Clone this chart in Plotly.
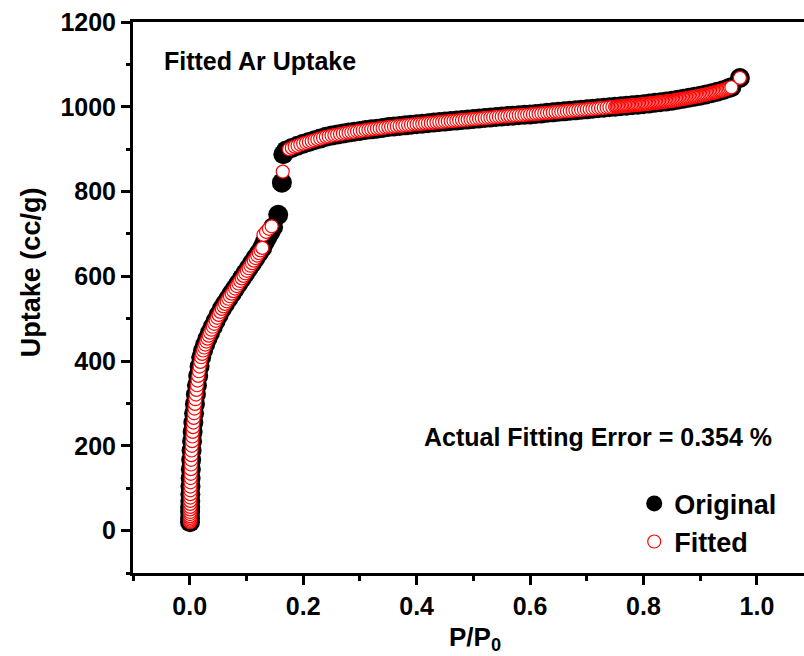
import plotly.graph_objects as go

# ---------------- data ----------------
# Original isotherm (black filled markers)
orig_p_low = [0.0005, 0.0006, 0.0007, 0.0008, 0.0010, 0.0011, 0.0013, 0.0016, 0.0020, 0.0026,
              0.0033, 0.0042, 0.0052, 0.0064, 0.0077, 0.0092, 0.0109, 0.0128, 0.0149, 0.0174,
              0.0203, 0.0236, 0.0273, 0.0314, 0.0359, 0.0407, 0.0458, 0.0511, 0.0566, 0.0622,
              0.0680, 0.0739, 0.0799, 0.0859, 0.0919, 0.0979, 0.1039, 0.1099, 0.1159, 0.1219]
orig_u_low = [20, 30, 44, 56, 70, 86, 104, 124, 145, 167,
              189, 211, 233, 255, 277, 299, 321, 343, 365, 387,
              409, 425, 439, 453, 467, 481, 495, 509, 523, 535,
              547, 559, 571, 583, 595, 607, 619, 631, 643, 655]
orig_p_knee = [0.1279, 0.1320, 0.1370, 0.1420, 0.1470, 0.1560, 0.1625, 0.1650, 0.1700]
orig_u_knee = [667, 680, 692, 704, 716, 745, 821, 888, 897]
orig_p_high = [0.18, 0.19, 0.20, 0.21, 0.22, 0.23, 0.24, 0.25, 0.26, 0.27, 0.28, 0.29, 0.30,
               0.31, 0.32, 0.33, 0.34, 0.35, 0.36, 0.37, 0.38, 0.39, 0.40, 0.41, 0.42, 0.43,
               0.44, 0.45, 0.46, 0.47, 0.48, 0.49, 0.50, 0.51, 0.52, 0.53, 0.54, 0.55, 0.56,
               0.57, 0.58, 0.59, 0.60, 0.61, 0.62, 0.63, 0.64, 0.65, 0.66, 0.67, 0.68, 0.69,
               0.70, 0.71, 0.72, 0.73, 0.74, 0.75, 0.76, 0.77, 0.78, 0.79, 0.80, 0.81, 0.82,
               0.83, 0.84, 0.85, 0.86, 0.87, 0.88, 0.89, 0.90, 0.91, 0.92, 0.93, 0.94, 0.95,
               0.955, 0.97]
orig_u_high = [903, 908, 913, 917, 921, 925, 929, 932, 934.4, 936.8, 939, 941, 943,
               945, 946.8, 948.4, 950, 952, 953.4, 954.8, 956.2, 957.6, 959, 960.2, 961.4, 962.6,
               963.8, 965, 966.2, 967.4, 968.6, 969.8, 971, 972.2, 973.4, 974.6, 975.8, 977, 978,
               979, 980, 981, 982, 983.2, 984.4, 985.6, 986.8, 988, 989.2, 990.4, 991.6, 992.8,
               994, 995.2, 996.4, 997.6, 998.8, 1000, 1001.2, 1002.4, 1003.6, 1004.8, 1006, 1007.6, 1009.2,
               1010.8, 1012.4, 1014, 1016.4, 1018.8, 1021.2, 1023.6, 1026, 1029, 1032, 1035.5, 1039, 1043.7,
               1046, 1068]

# Fitted isotherm (red open markers)
fit_p_low = [0.0005, 0.0005, 0.0005, 0.0006, 0.0006, 0.0006, 0.0007, 0.0007, 0.0008, 0.0008,
             0.0009, 0.0010, 0.0011, 0.0012, 0.0013, 0.0014, 0.0016, 0.0018, 0.0020, 0.0023,
             0.0026, 0.0029, 0.0033, 0.0037, 0.0042, 0.0047, 0.0052, 0.0058, 0.0064, 0.0070,
             0.0077, 0.0084, 0.0092, 0.0100, 0.0109, 0.0118, 0.0128, 0.0138, 0.0149, 0.0161,
             0.0174, 0.0188, 0.0203, 0.0219, 0.0236, 0.0254, 0.0273, 0.0293, 0.0314, 0.0336,
             0.0359, 0.0383, 0.0407, 0.0432, 0.0458, 0.0484, 0.0511, 0.0538, 0.0566, 0.0594,
             0.0622, 0.0651, 0.0680, 0.0709, 0.0739, 0.0769, 0.0799, 0.0829, 0.0859, 0.0889,
             0.0919, 0.0949, 0.0979, 0.1009, 0.1039, 0.1069, 0.1099, 0.1129, 0.1159, 0.1189,
             0.1219, 0.1249, 0.1279]
fit_u_low = [20, 23, 26, 30, 34, 39, 44, 50, 56, 63,
             70, 78, 86, 95, 104, 114, 124, 134, 145, 156,
             167, 178, 189, 200, 211, 222, 233, 244, 255, 266,
             277, 288, 299, 310, 321, 332, 343, 354, 365, 376,
             387, 398, 409, 417, 425, 432, 439, 446, 453, 460,
             467, 474, 481, 488, 495, 502, 509, 516, 523, 529,
             535, 541, 547, 553, 559, 565, 571, 577, 583, 589,
             595, 601, 607, 613, 619, 625, 631, 637, 643, 649,
             655, 661, 667]
fit_p_knee = [0.1300, 0.1345, 0.1395, 0.1445, 0.1640]
fit_u_knee = [698, 705, 712, 718, 847]
fit_p_mid = [0.175, 0.180, 0.185, 0.190, 0.195, 0.200, 0.205, 0.210, 0.215, 0.220,
             0.225, 0.230, 0.235, 0.240, 0.245, 0.250, 0.255, 0.260, 0.265, 0.270,
             0.275, 0.280, 0.285, 0.290, 0.295, 0.300, 0.305, 0.310, 0.315, 0.320,
             0.325, 0.330, 0.335, 0.340, 0.345, 0.350, 0.355, 0.360, 0.365, 0.370,
             0.375, 0.380, 0.385, 0.390, 0.395, 0.400, 0.405, 0.410, 0.415, 0.420,
             0.425, 0.430, 0.435, 0.440, 0.445, 0.450, 0.455, 0.460, 0.465, 0.470,
             0.475, 0.480, 0.485, 0.490, 0.495, 0.500, 0.505, 0.510, 0.515, 0.520,
             0.525, 0.530, 0.535, 0.540, 0.545, 0.550, 0.555, 0.560, 0.565, 0.570,
             0.575, 0.580, 0.585, 0.590, 0.595, 0.600, 0.605, 0.610, 0.615, 0.620,
             0.625, 0.630, 0.635, 0.640, 0.645, 0.650, 0.655, 0.660, 0.665, 0.670,
             0.675, 0.680, 0.685, 0.690, 0.695, 0.700, 0.705, 0.710, 0.715, 0.720,
             0.725, 0.730, 0.735, 0.740, 0.745, 0.750]
fit_u_mid = [900, 903, 906, 908, 911, 913, 915, 917, 919, 921,
             923, 925, 927, 929, 930.5, 932, 933.2, 934.4, 935.6, 936.8,
             938, 939, 940, 941, 942, 943, 944, 945, 946, 946.8,
             947.6, 948.4, 949.2, 950, 951, 952, 952.7, 953.4, 954.1, 954.8,
             955.5, 956.2, 956.9, 957.6, 958.3, 959, 959.6, 960.2, 960.8, 961.4,
             962, 962.6, 963.2, 963.8, 964.4, 965, 965.6, 966.2, 966.8, 967.4,
             968, 968.6, 969.2, 969.8, 970.4, 971, 971.6, 972.2, 972.8, 973.4,
             974, 974.6, 975.2, 975.8, 976.4, 977, 977.5, 978, 978.5, 979,
             979.5, 980, 980.5, 981, 981.5, 982, 982.6, 983.2, 983.8, 984.4,
             985, 985.6, 986.2, 986.8, 987.4, 988, 988.6, 989.2, 989.8, 990.4,
             991, 991.6, 992.2, 992.8, 993.4, 994, 994.6, 995.2, 995.8, 996.4,
             997, 997.6, 998.2, 998.8, 999.4, 1000]
fit_p_high = [0.7525, 0.7550, 0.7575, 0.7600, 0.7625, 0.7650, 0.7675, 0.7700, 0.7725, 0.7750,
              0.7775, 0.7800, 0.7825, 0.7850, 0.7875, 0.7900, 0.7925, 0.7950, 0.7975, 0.8000,
              0.8025, 0.8050, 0.8075, 0.8100, 0.8125, 0.8150, 0.8175, 0.8200, 0.8225, 0.8250,
              0.8275, 0.8300, 0.8325, 0.8350, 0.8375, 0.8400, 0.8425, 0.8450, 0.8475, 0.8500,
              0.8525, 0.8550, 0.8575, 0.8600, 0.8625, 0.8650, 0.8675, 0.8700, 0.8725, 0.8750,
              0.8775, 0.8800, 0.8825, 0.8850, 0.8875, 0.8900, 0.8925, 0.8950, 0.8975, 0.9000,
              0.9025, 0.9050, 0.9075, 0.9100, 0.9125, 0.9150, 0.9175, 0.9200,
              0.9225, 0.9250, 0.9275, 0.9300, 0.9325, 0.9350, 0.9375, 0.9400,
              0.9425, 0.9450, 0.9475, 0.9500, 0.9525, 0.9550, 0.9700]
fit_u_high = [1000.3, 1000.6, 1000.9, 1001.2, 1001.5, 1001.8, 1002.1, 1002.4, 1002.7, 1003,
              1003.3, 1003.6, 1003.9, 1004.2, 1004.5, 1004.8, 1005.1, 1005.4, 1005.7, 1006,
              1006.4, 1006.8, 1007.2, 1007.6, 1008, 1008.4, 1008.8, 1009.2, 1009.6, 1010,
              1010.4, 1010.8, 1011.2, 1011.6, 1012, 1012.4, 1012.8, 1013.2, 1013.6, 1014,
              1014.6, 1015.2, 1015.8, 1016.4, 1017, 1017.6, 1018.2, 1018.8, 1019.4, 1020,
              1020.6, 1021.2, 1021.8, 1022.4, 1023, 1023.6, 1024.2, 1024.8, 1025.4, 1026,
              1026.75, 1027.5, 1028.25, 1029, 1029.75, 1030.5, 1031.25, 1032,
              1032.9, 1033.8, 1034.6, 1035.5, 1036.4, 1037.3, 1038.1, 1039,
              1040.2, 1041.3, 1042.5, 1043.7, 1044.8, 1046, 1068]

x_tick_vals = [0.0, 0.2, 0.4, 0.6, 0.8, 1.0]
x_tick_text = ["0.0", "0.2", "0.4", "0.6", "0.8", "1.0"]
y_tick_vals = [0, 200, 400, 600, 800, 1000, 1200]
y_tick_text = ["0", "200", "400", "600", "800", "1000", "1200"]

orig_p = orig_p_low + orig_p_knee + orig_p_high
orig_u = orig_u_low + orig_u_knee + orig_u_high
fit_p = fit_p_low + fit_p_knee + fit_p_mid + fit_p_high
fit_u = fit_u_low + fit_u_knee + fit_u_mid + fit_u_high

FONT = "Liberation Sans"

fig = go.Figure()
fig.add_trace(go.Scatter(
    x=orig_p, y=orig_u, mode="markers", name="Original",
    marker=dict(symbol="circle", size=20, color="black", line=dict(width=0)),
))
fig.add_trace(go.Scatter(
    x=fit_p, y=fit_u, mode="markers", name="Fitted",
    marker=dict(symbol="circle", size=13, color="white", line=dict(color="red", width=1.2)),
))

axis_common = dict(
    showgrid=False, zeroline=False, showline=True, linecolor="black", linewidth=3,
    ticks="outside", ticklen=9, tickwidth=3, tickcolor="black",
    tickfont=dict(family=FONT, size=25, color="black", weight="bold"),
)

fig.update_xaxes(
    range=[-0.1, 1.083], tickvals=x_tick_vals, ticktext=x_tick_text, mirror=True,
    minor=dict(ticks="outside", ticklen=5, tickwidth=3, tickcolor="black", dtick=0.1, tick0=0),
    **axis_common,
)
fig.update_yaxes(
    range=[-100, 1200], tickvals=y_tick_vals, ticktext=y_tick_text,
    minor=dict(ticks="outside", ticklen=4, tickwidth=3, tickcolor="black", dtick=100, tick0=0),
    **axis_common,
)

fig.update_layout(
    width=804, height=656,
    margin=dict(l=133, r=0, t=22, b=83),
    plot_bgcolor="white", paper_bgcolor="white",
    font=dict(family=FONT, color="black"),
    showlegend=True,
    legend=dict(
        x=0.747, y=0.17, xanchor="left", yanchor="top",
        bgcolor="rgba(0,0,0,0)", borderwidth=0,
        font=dict(family=FONT, size=27, color="black", weight="bold"),
        itemsizing="trace",
    ),
    annotations=[
        dict(text="Uptake (cc/g)", xref="paper", yref="paper", x=-0.152, y=0.546,
             xanchor="center", yanchor="middle", textangle=-90, showarrow=False,
             font=dict(family=FONT, size=27, color="black", weight="bold")),
        dict(text="P/P<sub>0</sub>", xref="paper", yref="paper", x=0.51, y=-0.118,
             xanchor="center", yanchor="middle", showarrow=False,
             font=dict(family=FONT, size=26, color="black", weight="bold")),
        dict(text="Fitted Ar Uptake", xref="paper", yref="paper", x=0.0432, y=0.929,
             xanchor="left", yanchor="middle", showarrow=False,
             font=dict(family=FONT, size=25, color="black", weight="bold")),
        dict(text="Actual Fitting Error = 0.354 %", xref="paper", yref="paper", x=0.4307, y=0.247,
             xanchor="left", yanchor="middle", showarrow=False,
             font=dict(family=FONT, size=25, color="black", weight="bold")),
    ],
)

fig.write_html("out.html")
